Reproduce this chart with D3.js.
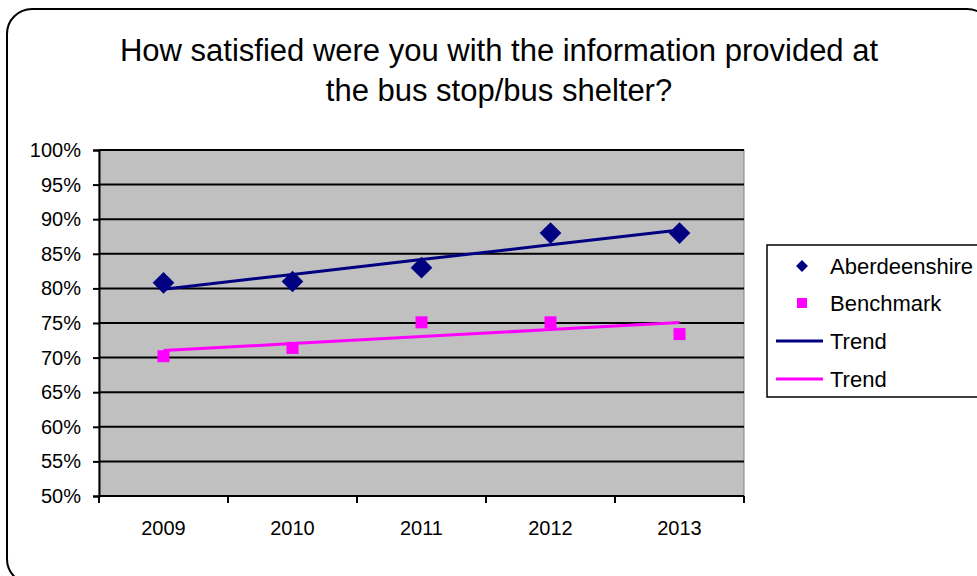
<!DOCTYPE html>
<html>
<head>
<meta charset="utf-8">
<script src="https://cdn.jsdelivr.net/npm/d3@7"></script>
<style>
  html, body { margin: 0; padding: 0; background: #fff; }
  svg { display: block; font-family: "Liberation Sans", Arial, sans-serif; }
</style>
</head>
<body>
<svg id="chart" width="977" height="576"></svg>
<script>
// Survey results: satisfaction with information at bus stops / shelters
const years = ["2009", "2010", "2011", "2012", "2013"];
const aberdeenshire = [80.8, 81.0, 83.0, 88.0, 88.0];
const benchmark = [70.2, 71.4, 75.1, 75.1, 73.4];
const yTicks = [50, 55, 60, 65, 70, 75, 80, 85, 90, 95, 100];
const titleLines = ["How satisfied were you with the information provided at", "the bus stop/bus shelter?"];
const legendLabels = ["Aberdeenshire", "Benchmark", "Trend", "Trend"];

const navy = "#000080";
const magenta = "#FF00FF";

const svg = d3.select("#chart");

// Outer chart frame with rounded corners
svg.append("rect")
  .attr("x", 7).attr("y", 9)
  .attr("width", 985).attr("height", 575)
  .attr("rx", 25).attr("ry", 25)
  .attr("fill", "#fff")
  .attr("stroke", "#000").attr("stroke-width", 2);

// Title
const title = svg.append("text")
  .attr("text-anchor", "middle")
  .attr("font-size", 31)
  .attr("fill", "#000");
titleLines.forEach((line, i) => {
  title.append("tspan").attr("x", 499).attr("y", 61 + i * 40).text(line);
});

const plot = { left: 99, right: 744, top: 150, bottom: 496 };

const x = d3.scaleBand().domain(years).range([plot.left, plot.right]);
const y = d3.scaleLinear().domain([50, 100]).range([plot.bottom, plot.top]);
const cx = d => x(d) + x.bandwidth() / 2;

// Plot area background
svg.append("rect")
  .attr("x", plot.left).attr("y", plot.top)
  .attr("width", plot.right - plot.left).attr("height", plot.bottom - plot.top)
  .attr("fill", "#C0C0C0")
  .attr("stroke", "#808080").attr("stroke-width", 1);

// Horizontal gridlines
svg.append("g")
  .selectAll("line")
  .data(yTicks.filter(t => t > 50))
  .join("line")
  .attr("x1", plot.left).attr("x2", plot.right)
  .attr("y1", d => y(d)).attr("y2", d => y(d))
  .attr("stroke", "#000").attr("stroke-width", 2);

// Y axis
const yAxis = svg.append("g")
  .attr("transform", `translate(${plot.left},0)`)
  .call(d3.axisLeft(y).tickValues(yTicks).tickFormat(d => d + "%").tickSize(6).tickPadding(12));
yAxis.select(".domain").attr("stroke", "#000").attr("stroke-width", 2);
yAxis.selectAll(".tick line").attr("stroke", "#000").attr("stroke-width", 2);
yAxis.selectAll(".tick text")
  .attr("font-size", 20).attr("fill", "#000")
  .attr("font-family", "Liberation Sans, Arial, sans-serif");

// X axis with ticks between categories
const xAxis = svg.append("g")
  .attr("transform", `translate(0,${plot.bottom})`);
xAxis.append("line")
  .attr("x1", plot.left).attr("x2", plot.right)
  .attr("stroke", "#000").attr("stroke-width", 2);
const boundaries = years.map(d => x(d)).concat([x(years[years.length - 1]) + x.bandwidth()]);
xAxis.selectAll("line.tk")
  .data(boundaries)
  .join("line")
  .attr("class", "tk")
  .attr("x1", d => d).attr("x2", d => d)
  .attr("y1", 0).attr("y2", 7)
  .attr("stroke", "#000").attr("stroke-width", 2);
xAxis.selectAll("text")
  .data(years)
  .join("text")
  .attr("x", d => cx(d))
  .attr("y", 39)
  .attr("text-anchor", "middle")
  .attr("font-size", 20)
  .attr("fill", "#000")
  .text(d => d);

// Linear least-squares trend over category index
function trend(values) {
  const idx = values.map((_, i) => i);
  const mx = d3.mean(idx), my = d3.mean(values);
  const slope = d3.sum(idx, i => (i - mx) * (values[i] - my)) / d3.sum(idx, i => (i - mx) ** 2);
  const intercept = my - slope * mx;
  return idx.map(i => intercept + slope * i);
}

const line = d3.line()
  .x((d, i) => cx(years[i]))
  .y(d => y(d));

// Trend lines
svg.append("path")
  .datum(trend(aberdeenshire))
  .attr("d", line)
  .attr("fill", "none").attr("stroke", navy).attr("stroke-width", 3);
svg.append("path")
  .datum(trend(benchmark))
  .attr("d", line)
  .attr("fill", "none").attr("stroke", magenta).attr("stroke-width", 3);

// Markers
const diamond = d3.symbol().type(d3.symbolDiamond2).size(300);
svg.append("g")
  .selectAll("path")
  .data(aberdeenshire)
  .join("path")
  .attr("d", diamond)
  .attr("transform", (d, i) => `translate(${cx(years[i])},${y(d)})`)
  .attr("fill", navy);

const sq = 12;
svg.append("g")
  .selectAll("rect")
  .data(benchmark)
  .join("rect")
  .attr("x", (d, i) => cx(years[i]) - sq / 2)
  .attr("y", d => y(d) - sq / 2)
  .attr("width", sq).attr("height", sq)
  .attr("fill", magenta);

// Legend
const legend = svg.append("g");
legend.append("rect")
  .attr("x", 767).attr("y", 245)
  .attr("width", 230).attr("height", 152)
  .attr("fill", "#fff")
  .attr("stroke", "#000").attr("stroke-width", 1.5);

const rowY = [266, 303, 341, 379];
legend.append("path")
  .attr("d", d3.symbol().type(d3.symbolDiamond2).size(90))
  .attr("transform", `translate(802,${rowY[0]})`)
  .attr("fill", navy);
legend.append("rect")
  .attr("x", 797).attr("y", rowY[1] - 5)
  .attr("width", 10).attr("height", 10)
  .attr("fill", magenta);
legend.append("line")
  .attr("x1", 776).attr("x2", 823)
  .attr("y1", rowY[2]).attr("y2", rowY[2])
  .attr("stroke", navy).attr("stroke-width", 3);
legend.append("line")
  .attr("x1", 776).attr("x2", 823)
  .attr("y1", rowY[3]).attr("y2", rowY[3])
  .attr("stroke", magenta).attr("stroke-width", 3);
legend.selectAll("text.lbl")
  .data(legendLabels)
  .join("text")
  .attr("class", "lbl")
  .attr("x", 830)
  .attr("y", (d, i) => rowY[i])
  .attr("dy", "0.36em")
  .attr("font-size", 22)
  .attr("fill", "#000")
  .text(d => d);
</script>
</body>
</html>
